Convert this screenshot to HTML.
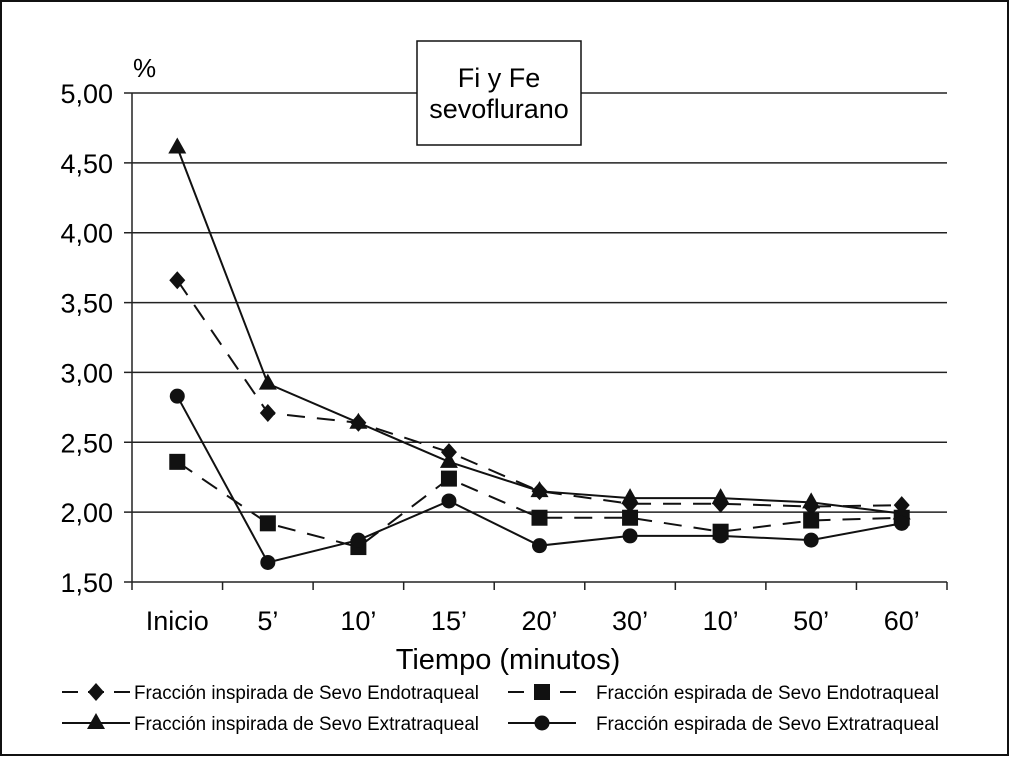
<!DOCTYPE html>
<html><head><meta charset="utf-8"><style>
body{margin:0;background:#fff}
svg{display:block;font-family:"Liberation Sans",sans-serif}
</style></head><body>
<svg width="1010" height="757" viewBox="0 0 1010 757">
<rect x="1" y="1" width="1007" height="754" fill="#fff" stroke="#111" stroke-width="2"/>
<g id="grid"></g>
<g id="series"></g>
<text x="133" y="77" font-size="26">%</text>
<rect x="417" y="41" width="164" height="104" fill="#fff" stroke="#111" stroke-width="1.5"/>
<text x="499" y="87" font-size="27" text-anchor="middle">Fi y Fe</text>
<text x="499" y="118" font-size="27" text-anchor="middle">sevoflurano</text>
<text x="508" y="669" font-size="29" text-anchor="middle">Tiempo (minutos)</text>
<g id="legend" font-size="19"></g>
</svg>
<script>
const categories=["Inicio","5’","10’","15’","20’","30’","10’","50’","60’"];
const yTicks=[1.5,2,2.5,3,3.5,4,4.5,5];
const yTickLabels=["1,50","2,00","2,50","3,00","3,50","4,00","4,50","5,00"];
const fiEndo=[3.66,2.71,2.64,2.43,2.15,2.06,2.06,2.04,2.05];
const fiExtra=[4.61,2.92,2.64,2.36,2.15,2.10,2.10,2.07,1.99];
const feEndo=[2.36,1.92,1.75,2.24,1.96,1.96,1.86,1.94,1.96];
const feExtra=[2.83,1.64,1.80,2.08,1.76,1.83,1.83,1.80,1.92];
const NS="http://www.w3.org/2000/svg";
const X0=132,X1=947,Y0=582,Y1=93;
const bw=(X1-X0)/categories.length;
const xs=i=>X0+bw*(i+0.5);
const ys=v=>Y0-(v-1.5)/(5-1.5)*(Y0-Y1);
function mk(tag,attrs,parent){const e=document.createElementNS(NS,tag);for(const k in attrs)e.setAttribute(k,attrs[k]);parent.appendChild(e);return e;}
const grid=document.getElementById('grid');
yTicks.forEach((t,i)=>{
  const l=mk('line',{x1:124,x2:X1,y1:ys(t),y2:ys(t),stroke:'#222','stroke-width':1.5},grid);
  
  
  const tx=mk('text',{x:113,y:ys(t)+10,'font-size':27,'text-anchor':'end'},grid);
  tx.textContent=yTickLabels[i];
  
  
});
const ax=mk('line',{x1:X0,x2:X0,y1:Y1,y2:Y0+8,stroke:'#222','stroke-width':1.5},grid);


for(let i=1;i<=categories.length;i++){
  const t=mk('line',{x1:X0+bw*i,x2:X0+bw*i,y1:Y0,y2:Y0+8,stroke:'#222','stroke-width':1.5},grid);
  
  
}
categories.forEach((c,i)=>{
  const t=mk('text',{x:xs(i),y:630,'font-size':27,'text-anchor':'middle'},grid);
  t.textContent=c;
  
  
});
function marker(type,x,y,g){
  let e;
  if(type==='diamond')e=mk('polygon',{points:`${x},${y-9} ${x+8},${y} ${x},${y+9} ${x-8},${y}`,fill:'#111'},g);
  else if(type==='triangle')e=mk('polygon',{points:`${x},${y-10} ${x+9},${y+6} ${x-9},${y+6}`,fill:'#111'},g);
  else if(type==='square')e=mk('rect',{x:x-8,y:y-8,width:16,height:16,fill:'#111'},g);
  else e=mk('circle',{cx:x,cy:y,r:7.5,fill:'#111'},g);
  return e;
}
const series=[
 {name:'fi-endo',data:fiEndo,dash:'18 12',m:'diamond',label:'Fracción inspirada de Sevo Endotraqueal',lx:62,ly:692},
 {name:'fi-extra',data:fiExtra,dash:'',m:'triangle',label:'Fracción inspirada de Sevo Extratraqueal',lx:62,ly:723},
 {name:'fe-endo',data:feEndo,dash:'18 12',m:'square',label:'Fracción espirada de Sevo Endotraqueal',lx:508,ly:692},
 {name:'fe-extra',data:feExtra,dash:'',m:'circle',label:'Fracción espirada de Sevo Extratraqueal',lx:508,ly:723}
];
const sg=document.getElementById('series'),lg=document.getElementById('legend');
series.forEach(s=>{
  const g=mk('g',{},sg);
  
  
  const p=mk('polyline',{points:s.data.map((v,i)=>xs(i)+','+ys(v)).join(' '),fill:'none',stroke:'#111','stroke-width':2,'stroke-dasharray':s.dash},g);
  
  
  s.data.forEach((v,i)=>{
    const m=marker(s.m,xs(i),ys(v),g);
    
    
  });
  const le=mk('g',{},lg);
  
  
  mk('line',{x1:s.lx,x2:s.lx+68,y1:s.ly,y2:s.ly,stroke:'#111','stroke-width':2,'stroke-dasharray':s.dash?'16 10':''},le);
  marker(s.m,s.lx+34,s.ly,le);
  const t=mk('text',{x:s.lx+(s.lx>300?88:72),y:s.ly+7,'font-size':19,textLength:s.lx>300?343:345,lengthAdjust:'spacingAndGlyphs'},le);
  t.textContent=s.label;
});
</script>
</body></html>
